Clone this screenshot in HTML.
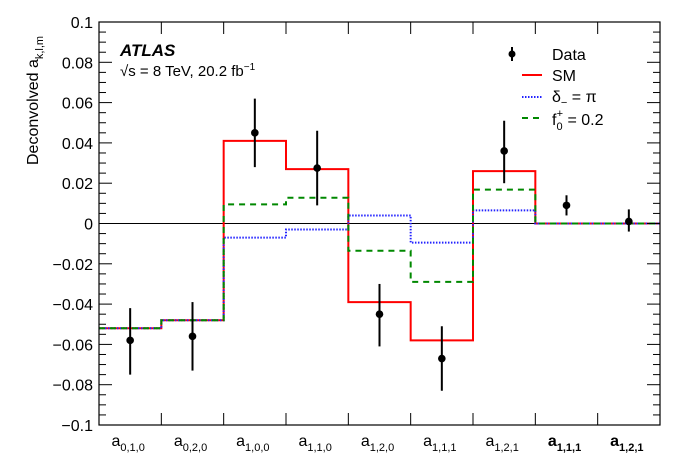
<!DOCTYPE html>
<html><head><meta charset="utf-8"><style>
body{margin:0;background:#fff;}
svg{display:block;font-family:"Liberation Sans",sans-serif;}
</style></head><body>
<svg id="s" width="700" height="474" viewBox="0 0 700 474" xmlns="http://www.w3.org/2000/svg">
<g id="g"></g>
<text x="120" y="56" font-size="17" font-weight="bold" font-style="italic">ATLAS</text>
<text x="120" y="76" font-size="15">√s = 8 TeV, 20.2 fb<tspan dy="-6" font-size="10">−1</tspan></text>
<text transform="translate(38,165) rotate(-90)" font-size="16">Deconvolved a<tspan dy="5" font-size="11">k,l,m</tspan></text>
<line x1="512" y1="47" x2="512" y2="61" stroke="#000" stroke-width="2"/>
<circle cx="512" cy="54" r="3.5"/>
<text x="552" y="60" font-size="16">Data</text>
<line x1="522" y1="75" x2="542" y2="75" stroke="#f00" stroke-width="2"/>
<text x="552" y="81" font-size="16">SM</text>
<line x1="522" y1="97" x2="542" y2="97" stroke="#22f" stroke-width="2" stroke-dasharray="1.5,1.5"/>
<text x="552" y="102" font-size="16">δ<tspan dy="4" font-size="11">−</tspan><tspan dy="-4"> = π</tspan></text>
<line x1="522" y1="118" x2="542" y2="118" stroke="#080" stroke-width="2" stroke-dasharray="6,5"/>
<text x="552" y="125" font-size="16">f<tspan dy="5" font-size="11" dx="0">0</tspan><tspan dy="-13" dx="-6" font-size="11">+</tspan><tspan dy="8"> = 0.2</tspan></text>
</svg>
<script>
var L=99,R=660,T=22,B=425,W=(R-L)/9;
function Y(v){return 223.5-v*2015;}
var h='';
// zero line
h+='<line x1="'+L+'" y1="'+Y(0)+'" x2="'+R+'" y2="'+Y(0)+'" stroke="#000" stroke-width="1"/>';
function step(vals,col,dash,w){
 var p='M'+L+','+Y(vals[0]);
 for(var i=0;i<9;i++){p+=' L'+(L+W*i)+','+Y(vals[i])+' L'+(L+W*(i+1))+','+Y(vals[i]);}
 return '<path d="'+p+'" fill="none" stroke="'+col+'" stroke-width="'+w+'"'+(dash?' stroke-dasharray="'+dash+'"':'')+'/>';
}
h+=step([-0.052,-0.048,0.041,0.027,-0.039,-0.058,0.026,0,0],'#f00',null,2);
h+=step([-0.052,-0.048,-0.007,-0.003,0.004,-0.0095,0.0065,0,0],'#22f','1.5,1.5',2);
h+=step([-0.052,-0.048,0.0095,0.0128,-0.0135,-0.029,0.0168,0,0],'#080','6,5',2);
var d=[[-0.058,-0.075,-0.042],[-0.056,-0.073,-0.039],[0.045,0.028,0.062],[0.0275,0.009,0.046],[-0.045,-0.061,-0.030],[-0.067,-0.083,-0.051],[0.036,0.020,0.051],[0.009,0.004,0.014],[0.001,-0.004,0.007]];
for(var i=0;i<9;i++){var x=L+W*(i+0.5);
 h+='<line x1="'+x+'" y1="'+Y(d[i][1])+'" x2="'+x+'" y2="'+Y(d[i][2])+'" stroke="#000" stroke-width="2"/>';
 h+='<circle cx="'+x+'" cy="'+Y(d[i][0])+'" r="3.8"/>';}
// frame
h+='<rect x="'+L+'" y="'+T+'" width="'+(R-L)+'" height="'+(B-T)+'" fill="none" stroke="#000" stroke-width="1.2"/>';
for(var k=-20;k<=20;k++){var v=k*0.005,y=Y(v),len=(k%4==0)?13:7;
 h+='<line x1="'+L+'" y1="'+y+'" x2="'+(L+len)+'" y2="'+y+'" stroke="#000"/>';
 h+='<line x1="'+R+'" y1="'+y+'" x2="'+(R-len)+'" y2="'+y+'" stroke="#000"/>';
 if(k%4==0){var s=(v==0)?'0':(v<0?'−':'')+(Math.abs(v)==0.1?'0.1':Math.abs(v).toFixed(2));
  h+='<text x="93" y="'+(y+6)+'" font-size="16" text-anchor="end">'+s+'</text>';}}
for(var i=1;i<9;i++){var x=L+W*i;
 h+='<line x1="'+x+'" y1="'+B+'" x2="'+x+'" y2="'+(B-12)+'" stroke="#000"/>';
 h+='<line x1="'+x+'" y1="'+T+'" x2="'+x+'" y2="'+(T+12)+'" stroke="#000"/>';}
var lab=['0,1,0','0,2,0','1,0,0','1,1,0','1,2,0','1,1,1','1,2,1','1,1,1','1,2,1'];
for(var i=0;i<9;i++){var x=L+W*(i+0.5),b=i>=7?' font-weight="bold"':'';
 h+='<text x="'+(x-2)+'" y="446" font-size="16" text-anchor="middle"'+b+'>a<tspan dy="5" font-size="11">'+lab[i]+'</tspan></text>';}
document.getElementById('g').innerHTML=h;
</script>
</body></html>
